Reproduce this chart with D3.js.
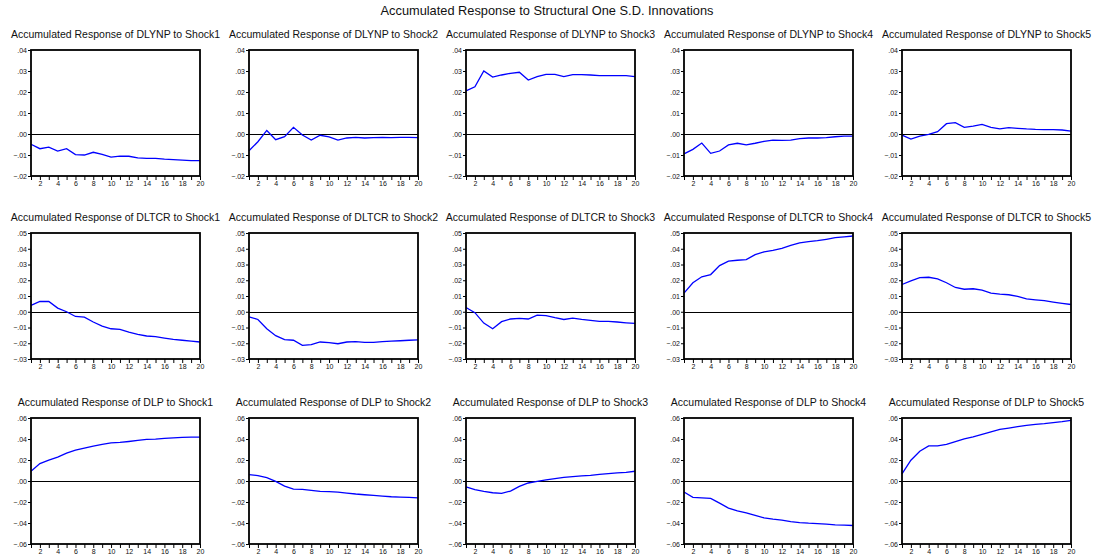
<!DOCTYPE html>
<html>
<head>
<meta charset="utf-8">
<script src="https://cdn.jsdelivr.net/npm/d3@7"></script>
<style>
  body { margin: 0; background: #fff; }
  text { font-family: "Liberation Sans", Arial, sans-serif; fill: #111; }
</style>
</head>
<body>
<div id="chart"></div>
<script>
//Data arrangement
var periods = [1, 2, 3, 4, 5, 6, 7, 8, 9, 10, 11, 12, 13, 14, 15, 16, 17, 18, 19, 20];
var xTickLabels = [2, 4, 6, 8, 10, 12, 14, 16, 18, 20];
var variables = ["DLYNP", "DLTCR", "DLP"];
var shocks = ["Shock1", "Shock2", "Shock3", "Shock4", "Shock5"];
var yDomains = [[-0.02, 0.04], [-0.03, 0.05], [-0.06, 0.06]];
var yTicks = [
  [-0.02, -0.01, 0.00, 0.01, 0.02, 0.03, 0.04],
  [-0.03, -0.02, -0.01, 0.00, 0.01, 0.02, 0.03, 0.04, 0.05],
  [-0.06, -0.04, -0.02, 0.00, 0.02, 0.04, 0.06]
];

var dlynp_s1 = [-0.0049, -0.0070, -0.0063, -0.0081, -0.0070, -0.0098, -0.0100, -0.0087, -0.0097, -0.0110, -0.0105, -0.0106, -0.0114, -0.0116, -0.0116, -0.0120, -0.0122, -0.0124, -0.0127, -0.0127];
var dlynp_s2 = [-0.0080, -0.0037, 0.0017, -0.0027, -0.0013, 0.0032, -0.0005, -0.0029, -0.0006, -0.0014, -0.0029, -0.0019, -0.0016, -0.0019, -0.0017, -0.0016, -0.0017, -0.0016, -0.0016, -0.0017];
var dlynp_s3 = [0.0205, 0.0225, 0.0300, 0.0271, 0.0281, 0.0289, 0.0294, 0.0257, 0.0273, 0.0284, 0.0284, 0.0273, 0.0283, 0.0283, 0.0281, 0.0278, 0.0278, 0.0278, 0.0278, 0.0273];
var dlynp_s4 = [-0.0095, -0.0073, -0.0043, -0.0092, -0.0081, -0.0052, -0.0044, -0.0052, -0.0044, -0.0035, -0.0029, -0.0030, -0.0029, -0.0022, -0.0019, -0.0019, -0.0017, -0.0013, -0.0010, -0.0010];
var dlynp_s5 = [-0.0005, -0.0024, -0.0010, -0.0002, 0.0011, 0.0049, 0.0054, 0.0032, 0.0038, 0.0046, 0.0032, 0.0024, 0.0030, 0.0027, 0.0024, 0.0022, 0.0021, 0.0021, 0.0019, 0.0014];

var dltcr_s1 = [0.0040, 0.0065, 0.0065, 0.0023, 0.0000, -0.0030, -0.0034, -0.0065, -0.0091, -0.0108, -0.0112, -0.0129, -0.0143, -0.0154, -0.0158, -0.0167, -0.0175, -0.0181, -0.0186, -0.0192];
var dltcr_s2 = [-0.0032, -0.0049, -0.0108, -0.0152, -0.0177, -0.0181, -0.0213, -0.0209, -0.0192, -0.0196, -0.0203, -0.0192, -0.0190, -0.0194, -0.0194, -0.0190, -0.0186, -0.0184, -0.0181, -0.0179];
var dltcr_s3 = [0.0027, -0.0006, -0.0072, -0.0108, -0.0063, -0.0046, -0.0042, -0.0046, -0.0021, -0.0025, -0.0038, -0.0049, -0.0040, -0.0049, -0.0055, -0.0061, -0.0061, -0.0065, -0.0070, -0.0074];
var dltcr_s4 = [0.0118, 0.0184, 0.0222, 0.0236, 0.0293, 0.0321, 0.0327, 0.0331, 0.0363, 0.0380, 0.0390, 0.0403, 0.0422, 0.0437, 0.0445, 0.0451, 0.0460, 0.0470, 0.0475, 0.0481];
var dltcr_s5 = [0.0173, 0.0196, 0.0217, 0.0219, 0.0209, 0.0184, 0.0154, 0.0143, 0.0146, 0.0137, 0.0118, 0.0112, 0.0108, 0.0097, 0.0082, 0.0076, 0.0070, 0.0061, 0.0053, 0.0046];

var dlp_s1 = [0.0093, 0.0166, 0.0198, 0.0227, 0.0265, 0.0293, 0.0313, 0.0332, 0.0348, 0.0364, 0.0367, 0.0376, 0.0386, 0.0396, 0.0399, 0.0405, 0.0411, 0.0415, 0.0418, 0.0418];
var dlp_s2 = [0.0061, 0.0051, 0.0032, -0.0003, -0.0048, -0.0077, -0.0080, -0.0089, -0.0099, -0.0102, -0.0105, -0.0115, -0.0124, -0.0131, -0.0137, -0.0144, -0.0150, -0.0153, -0.0156, -0.0160];
var dlp_s3 = [-0.0057, -0.0083, -0.0099, -0.0112, -0.0118, -0.0096, -0.0051, -0.0019, -0.0003, 0.0010, 0.0022, 0.0035, 0.0041, 0.0048, 0.0054, 0.0064, 0.0070, 0.0077, 0.0083, 0.0093];
var dlp_s4 = [-0.0105, -0.0156, -0.0160, -0.0166, -0.0211, -0.0258, -0.0284, -0.0303, -0.0328, -0.0351, -0.0364, -0.0373, -0.0386, -0.0396, -0.0402, -0.0405, -0.0411, -0.0418, -0.0421, -0.0424];
var dlp_s5 = [0.0067, 0.0198, 0.0284, 0.0335, 0.0335, 0.0348, 0.0376, 0.0402, 0.0421, 0.0444, 0.0469, 0.0491, 0.0504, 0.0517, 0.0530, 0.0539, 0.0546, 0.0555, 0.0565, 0.0578];

var responses = [
  [dlynp_s1, dlynp_s2, dlynp_s3, dlynp_s4, dlynp_s5],
  [dltcr_s1, dltcr_s2, dltcr_s3, dltcr_s4, dltcr_s5],
  [dlp_s1, dlp_s2, dlp_s3, dlp_s4, dlp_s5]
];

//Layout
var width = 1094, height = 558;
var colLeft = [31, 249, 466, 684, 902];
var rowTop = [50, 233, 418];
var plotW = 169, plotH = 126;

var svg = d3.select("#chart").append("svg")
  .attr("width", width)
  .attr("height", height);

svg.append("text")
  .attr("x", width / 2)
  .attr("y", 15)
  .attr("text-anchor", "middle")
  .style("font-size", "12.8px")
  .text("Accumulated Response to Structural One S.D. Innovations");

var xScale = d3.scaleLinear().domain([1, 20]).range([0, plotW]);
var yFormat = function(d) { return d3.format(".2f")(d).replace("0.", "."); };

variables.forEach(function(v, r) {
  var yScale = d3.scaleLinear().domain(yDomains[r]).range([plotH, 0]);
  shocks.forEach(function(s, c) {
    var g = svg.append("g")
      .attr("transform", "translate(" + colLeft[c] + "," + rowTop[r] + ")");

    g.append("text")
      .attr("x", plotW / 2)
      .attr("y", -12)
      .attr("text-anchor", "middle")
      .style("font-size", "10.5px")
      .text("Accumulated Response of " + v + " to " + s);

    var yAxis = d3.axisLeft(yScale).tickValues(yTicks[r]).tickSize(3).tickPadding(1).tickFormat(yFormat);
    var yg = g.append("g").call(yAxis);
    var xAxis = d3.axisBottom(xScale).tickValues(periods).tickSize(4).tickPadding(1)
      .tickFormat(function(d) { return xTickLabels.indexOf(d) >= 0 ? d : ""; });
    var xg = g.append("g").attr("transform", "translate(0," + plotH + ")").call(xAxis);

    [yg, xg].forEach(function(ax) {
      ax.select(".domain").remove();
      ax.selectAll("line").attr("stroke", "#000");
      ax.selectAll("text").style("font-size", "7px").attr("fill", "#111")
        .style("font-family", "'Liberation Sans', Arial, sans-serif");
    });

    // zero line
    var y0 = Math.round(yScale(0)) + 0.5;
    g.append("line")
      .attr("x1", 0).attr("x2", plotW)
      .attr("y1", y0).attr("y2", y0)
      .attr("stroke", "#000").attr("stroke-width", 1.2);

    var line = d3.line()
      .x(function(d, i) { return xScale(periods[i]); })
      .y(function(d) { return yScale(d); });

    g.append("path")
      .datum(responses[r][c])
      .attr("d", line)
      .attr("fill", "none")
      .attr("stroke", "#0000ff")
      .attr("stroke-width", 1.3);

    g.append("rect")
      .attr("x", 0).attr("y", 0)
      .attr("width", plotW).attr("height", plotH)
      .attr("fill", "none")
      .attr("stroke", "#000")
      .attr("stroke-width", 1.8);
  });
});
</script>
</body>
</html>
